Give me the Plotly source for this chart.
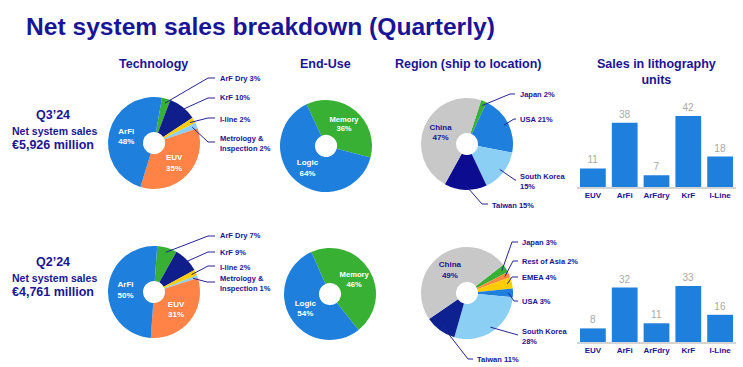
import math
import plotly.graph_objects as go

W, H = 743, 367
TXT = "#1a1496"
FONT = "Arial, Liberation Sans, sans-serif"

# ---------------- data ----------------
tech_labels = ["ArF Dry", "KrF", "I-line", "Metrology & Inspection", "EUV", "ArFi"]
tech_q3 = [3, 10, 2, 2, 35, 48]
tech_q2 = [7, 9, 2, 1, 31, 50]

enduse_labels = ["Memory", "Logic"]
enduse_q3 = [36, 64]
enduse_q2 = [46, 54]

region_q3_labels = ["Japan", "USA", "South Korea", "Taiwan", "China"]
region_q3 = [2, 21, 15, 15, 47]
region_q2_labels = ["Japan", "Rest of Asia", "EMEA", "USA", "South Korea", "Taiwan", "China"]
region_q2 = [3, 2, 4, 3, 28, 11, 49]

units_cats = ["EUV", "ArFi", "ArFdry", "KrF", "I-Line"]
units_q3 = [11, 38, 7, 42, 18]
units_q2 = [8, 32, 11, 33, 16]

quarters = ["Q3\u201924", "Q2\u201924"]
sales = ["\u20ac5,926 million", "\u20ac4,761 million"]

# ---------------- styles ----------------
BLUE = "#1f7fdc"
ORANGE = "#ff8246"
GREEN = "#38b034"
NAVY = "#0f1e8a"
YELLOW = "#ffcc00"
LBLUE = "#8ccff5"
GRAY = "#c8c8c8"

tech_colors = [GREEN, NAVY, YELLOW, LBLUE, ORANGE, BLUE]
enduse_colors = [GREEN, BLUE]
region_q3_colors = [GREEN, BLUE, LBLUE, "#0c0c90", GRAY]
region_q2_colors = [GREEN, "#ff8a3d", YELLOW, BLUE, LBLUE, "#0d2290", GRAY]

fig = go.Figure()


def px(x):
    return x / W


def py(y):
    return 1 - y / H


def add_pie(labels, values, colors, cx, cy, r, rotation, inside, inside_colors):
    texts = []
    tcols = []
    for l, v in zip(labels, values):
        if l in inside:
            texts.append(f"<b>{l}<br>{v}%</b>")
            tcols.append(inside_colors.get(l, "white"))
        else:
            texts.append("")
            tcols.append("white")
    fig.add_trace(go.Pie(
        labels=labels, values=values, sort=False, direction="clockwise",
        rotation=rotation, hole=0.24,
        marker=dict(colors=colors, line=dict(width=0)),
        text=texts, textinfo="text", textposition="inside",
        insidetextorientation="horizontal",
        insidetextfont=dict(color=tcols, size=8, family=FONT),
        domain=dict(x=[px(cx - r), px(cx + r)], y=[py(cy + r), py(cy - r)]),
        showlegend=False, hoverinfo="label+percent",
    ))


def edge_point(values, idx, rotation, cx, cy, r):
    tot = sum(values)
    a0 = rotation + 360 * sum(values[:idx]) / tot
    a = math.radians(a0 + 180 * values[idx] / tot)
    return cx + r * math.sin(a), cy - r * math.cos(a)


def leader(values, idx, rotation, cx, cy, r, elbow, end, text, tx, ty, anchor="left"):
    sx, sy = edge_point(values, idx, rotation, cx, cy, r * 0.9)
    path = f"M {px(sx)},{py(sy)} L {px(elbow[0])},{py(elbow[1])} L {px(end[0])},{py(end[1])}"
    fig.add_shape(type="path", path=path, xref="paper", yref="paper",
                  line=dict(color="#24229a", width=1))
    fig.add_annotation(x=px(tx), y=py(ty), xref="paper", yref="paper",
                       text=f"<b>{text}</b>", showarrow=False, xanchor=anchor,
                       yanchor="middle", align="left",
                       font=dict(size=7.5, color=TXT, family=FONT))


R = 46
# ---- Q3 ----
add_pie(tech_labels, tech_q3, tech_colors, 154, 143, R, 10, ["EUV", "ArFi"], {})
add_pie(enduse_labels, enduse_q3, enduse_colors, 326, 146, R, -25, ["Memory", "Logic"], {})
add_pie(region_q3_labels, region_q3, region_q3_colors, 467, 144, R, 18, ["China"], {"China": TXT})
# ---- Q2 ----
add_pie(tech_labels, tech_q2, tech_colors, 154, 292, R, 4, ["EUV", "ArFi"], {})
add_pie(enduse_labels, enduse_q2, enduse_colors, 330, 294, R, -24, ["Memory", "Logic"], {})
add_pie(region_q2_labels, region_q2, region_q2_colors, 467, 293, R, 52, ["China"], {"China": TXT})


def pct(v):
    return f"{v}%"

# leaders Q3 technology
leader(tech_q3, 0, 10, 154, 143, R, (208, 78), (215, 78), f"ArF Dry {pct(tech_q3[0])}", 218, 78)
leader(tech_q3, 1, 10, 154, 143, R, (208, 98), (215, 98), f"KrF {pct(tech_q3[1])}", 218, 98)
leader(tech_q3, 2, 10, 154, 143, R, (208, 118), (215, 118), f"I-line {pct(tech_q3[2])}", 218, 119)
leader(tech_q3, 3, 10, 154, 143, R, (208, 142), (215, 142), f"Metrology &<br>Inspection {pct(tech_q3[3])}", 218, 143)
# leaders Q2 technology
leader(tech_q2, 0, 4, 154, 292, R, (208, 236), (215, 236), f"ArF Dry {pct(tech_q2[0])}", 218, 236)
leader(tech_q2, 1, 4, 154, 292, R, (208, 252), (215, 252), f"KrF {pct(tech_q2[1])}", 218, 252)
leader(tech_q2, 2, 4, 154, 292, R, (208, 266), (215, 266), f"I-line {pct(tech_q2[2])}", 218, 267)
leader(tech_q2, 3, 4, 154, 292, R, (207, 282), (215, 282), f"Metrology &<br>Inspection {pct(tech_q2[3])}", 218, 283)
# leaders Q3 region
leader(region_q3, 0, 18, 467, 144, R, (510, 94), (515, 94), f"Japan {pct(region_q3[0])}", 518, 95)
leader(region_q3, 1, 18, 467, 144, R, (514, 119), (516, 119), f"USA {pct(region_q3[1])}", 518, 119)
leader(region_q3, 2, 18, 467, 144, R, (515, 180), (516, 180), f"South Korea<br>{pct(region_q3[2])}", 518, 181)
leader(region_q3, 3, 18, 467, 144, R, (482, 204), (488, 204), f"Taiwan {pct(region_q3[3])}", 490, 205)
# leaders Q2 region
leader(region_q2, 0, 52, 467, 293, R, (512, 242), (518, 242), f"Japan {pct(region_q2[0])}", 520, 242)
leader(region_q2, 1, 52, 467, 293, R, (513, 261), (518, 261), f"Rest of Asia {pct(region_q2[1])}", 520, 261)
leader(region_q2, 2, 52, 467, 293, R, (512, 277), (518, 277), f"EMEA {pct(region_q2[2])}", 520, 277)
leader(region_q2, 3, 52, 467, 293, R, (514, 301), (518, 301), f"USA {pct(region_q2[3])}", 520, 301)
leader(region_q2, 4, 52, 467, 293, R, (518, 335), (518, 335), f"South Korea<br>{pct(region_q2[4])}", 520, 336)
leader(region_q2, 5, 52, 467, 293, R, (468, 359), (473, 359), f"Taiwan {pct(region_q2[5])}", 475, 359)

# ---------------- bars ----------------
bar_x = [px(577), px(736)]
fig.add_trace(go.Bar(x=units_cats, y=units_q3, marker=dict(color=BLUE, line=dict(width=0)),
                     text=[str(v) for v in units_q3], textposition="outside",
                     textfont=dict(color="#a8a8a8", size=10, family=FONT),
                     cliponaxis=False, xaxis="x", yaxis="y", showlegend=False))
fig.add_trace(go.Bar(x=units_cats, y=units_q2, marker=dict(color=BLUE, line=dict(width=0)),
                     text=[str(v) for v in units_q2], textposition="outside",
                     textfont=dict(color="#a8a8a8", size=10, family=FONT),
                     cliponaxis=False, xaxis="x2", yaxis="y2", showlegend=False))

xax = dict(showline=True, linecolor="#d4d4d4", linewidth=1.5, ticks="", showgrid=False,
           tickfont=dict(size=8, color=TXT, family=FONT, weight="bold"), fixedrange=True)
yax = dict(visible=False, range=[0, 50], showgrid=False, zeroline=False, fixedrange=True)

fig.update_layout(
    width=W, height=H, margin=dict(l=0, r=0, t=0, b=0),
    paper_bgcolor="white", plot_bgcolor="white", bargap=0.19,
    font=dict(family=FONT, color=TXT),
    xaxis=dict(domain=bar_x, anchor="y", **xax),
    yaxis=dict(domain=[py(187), py(102.5)], anchor="x", **yax),
    xaxis2=dict(domain=bar_x, anchor="y2", **xax),
    yaxis2=dict(domain=[py(342), py(257)], anchor="x2", **yax),
)

# ---------------- texts ----------------
def note(text, x, y, size, anchor="center", bold=True, color=TXT):
    fig.add_annotation(x=px(x), y=py(y), xref="paper", yref="paper",
                       text=f"<b>{text}</b>" if bold else text, showarrow=False,
                       xanchor=anchor, yanchor="middle", align="center",
                       font=dict(size=size, color=color, family=FONT))

note("Net system sales breakdown (Quarterly)", 24, 27, 24.6, anchor="left")
note("Technology", 153, 64, 12.5)
note("End-Use", 325, 64, 12.5)
note("Region (ship to location)", 468, 64, 12.5)
note("Sales in lithography<br>units", 656, 72, 12.5)

for q, s, y0 in zip(quarters, sales, [115, 262]):
    note(q, 53, y0, 12.5)
    note("Net system sales", 54, y0 + 16, 10.5)
    note(s, 53, y0 + 30, 12.5)

fig.write_html("out.html", config={"displayModeBar": False},
               post_script="document.body.style.margin='0px';document.body.style.overflow='hidden';")
